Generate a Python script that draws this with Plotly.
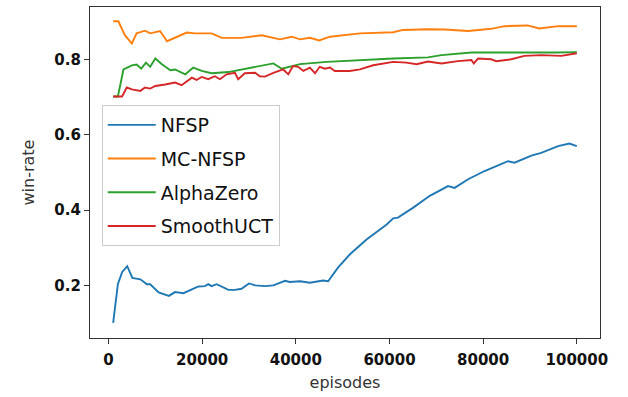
import plotly.graph_objects as go

# NFSP
nfsp_x = [1000, 2000, 2900, 4000, 5100, 6800, 8200, 8900, 10700, 11700, 12900, 14200, 16000,
          17800, 19200, 20600, 21300, 22000, 23100, 25600, 27000, 28400, 30000, 31300, 33400,
          35200, 36600, 37700, 38700, 40900, 43000, 45800, 46900, 49000, 51500, 55100, 59400,
          60800, 61800, 65000, 68600, 70400, 72500, 73900, 76800, 80300, 85300, 86700, 90300,
          92400, 96000, 98400, 100000]
nfsp_y = [0.100, 0.203, 0.235, 0.251, 0.220, 0.216, 0.203, 0.203, 0.181, 0.176, 0.172, 0.182, 0.179,
          0.189, 0.197, 0.198, 0.203, 0.198, 0.203, 0.188, 0.188, 0.191, 0.205, 0.200, 0.198,
          0.200, 0.207, 0.212, 0.209, 0.211, 0.207, 0.213, 0.211, 0.247, 0.282, 0.322, 0.362,
          0.378, 0.380, 0.406, 0.438, 0.450, 0.464, 0.459, 0.482, 0.504, 0.530, 0.526, 0.545,
          0.552, 0.570, 0.577, 0.570]

# MC-NFSP
mc_x = [1000, 2100, 3500, 5000, 6000, 7800, 8900, 11000, 12500, 14600, 16700, 18500, 22000,
        24200, 28400, 32700, 36600, 39100, 40900, 43000, 45000, 47300, 53700, 60800, 62900,
        68200, 71800, 76800, 81700, 84600, 89500, 92000, 96000, 100000]
mc_y = [0.902, 0.902, 0.865, 0.843, 0.870, 0.877, 0.870, 0.876, 0.849, 0.861, 0.872, 0.870, 0.870,
        0.858, 0.858, 0.865, 0.854, 0.861, 0.854, 0.858, 0.851, 0.861, 0.870, 0.873, 0.879,
        0.881, 0.880, 0.876, 0.882, 0.889, 0.891, 0.883, 0.889, 0.889]

# AlphaZero
az_x = [1000, 2000, 3200, 5000, 6000, 7000, 8000, 8900, 10000, 11400, 13200, 14200, 16400,
        18100, 19900, 22000, 25600, 28400, 31300, 33400, 35200, 37000, 40900, 46600, 53700,
        60800, 68200, 71100, 77500, 83900, 88800, 96000, 100000]
az_y = [0.702, 0.702, 0.774, 0.785, 0.787, 0.776, 0.792, 0.781, 0.803, 0.788, 0.772, 0.774, 0.761,
        0.779, 0.770, 0.764, 0.767, 0.774, 0.781, 0.785, 0.790, 0.776, 0.788, 0.794, 0.799,
        0.803, 0.806, 0.812, 0.819, 0.820, 0.819, 0.819, 0.820]

# SmoothUCT
su_x = [1000, 2900, 3900, 5000, 6800, 7800, 8900, 10000, 12100, 14200, 15600, 17800, 18800,
        19900, 21300, 22700, 23800, 25200, 27000, 27700, 29100, 31300, 32300, 33400, 35200,
        36200, 37300, 38400, 39400, 40500, 41600, 43000, 44100, 45100, 46200, 47300, 48300,
        51500, 53700, 56500, 60800, 63600, 65800, 68200, 71100, 74600, 77500, 78000, 78900,
        81700, 82800, 86000, 88800, 92400, 96700, 100000]
su_y = [0.702, 0.702, 0.726, 0.721, 0.717, 0.726, 0.723, 0.730, 0.734, 0.739, 0.732, 0.752, 0.746,
        0.754, 0.748, 0.756, 0.748, 0.761, 0.765, 0.748, 0.764, 0.765, 0.756, 0.755, 0.765,
        0.770, 0.774, 0.761, 0.783, 0.781, 0.770, 0.779, 0.764, 0.781, 0.776, 0.779, 0.770,
        0.770, 0.774, 0.785, 0.794, 0.792, 0.788, 0.795, 0.790, 0.796, 0.799, 0.790, 0.803,
        0.801, 0.796, 0.801, 0.810, 0.812, 0.810, 0.817]

x_ticks = [0, 20000, 40000, 60000, 80000, 100000]
y_ticks = [0.2, 0.4, 0.6, 0.8]

series = [
    ("NFSP", nfsp_x, nfsp_y, "#1f77b4"),
    ("MC-NFSP", mc_x, mc_y, "#ff7f0e"),
    ("AlphaZero", az_x, az_y, "#2ca02c"),
    ("SmoothUCT", su_x, su_y, "#d62728"),
]

fig = go.Figure()
for name, xs, ys, col in series:
    fig.add_trace(go.Scatter(x=xs, y=ys, mode="lines", name=name, legendgroup=name,
                             line=dict(color=col, width=1.9)))

axis_common = dict(showgrid=False, zeroline=False, showline=True, mirror=True,
                   linecolor="#333333", linewidth=1.2, ticks="outside", ticklen=5,
                   tickcolor="#333333", tickwidth=1.2,
                   tickfont=dict(family="DejaVu Sans", size=15, color="#111111", weight="bold"))

fig.update_layout(
    width=628, height=397,
    margin=dict(l=90, r=28, t=7, b=59),
    plot_bgcolor="white", paper_bgcolor="white",
    xaxis=dict(range=[-3950, 104950], tickvals=x_ticks, ticktext=[str(v) for v in x_ticks],
               ticklabelstandoff=3,
               title=dict(text="episodes", font=dict(family="DejaVu Sans", size=16, color="#333333"),
                          standoff=8),
               **axis_common),
    yaxis=dict(range=[0.06, 0.94], tickvals=y_ticks, ticktext=["0.2", "0.4", "0.6", "0.8"],
               title=dict(text="win-rate", font=dict(family="DejaVu Sans", size=16, color="#333333"),
                          standoff=15),
               **axis_common),
    legend=dict(x=0.023, y=0.704, xanchor="left", yanchor="top",
                bgcolor="white", bordercolor="#cccccc", borderwidth=1,
                font=dict(family="DejaVu Sans", size=19, color="#111111"),
                tracegroupgap=6, itemwidth=48),
    showlegend=True,
)

fig.write_html("out.html")
